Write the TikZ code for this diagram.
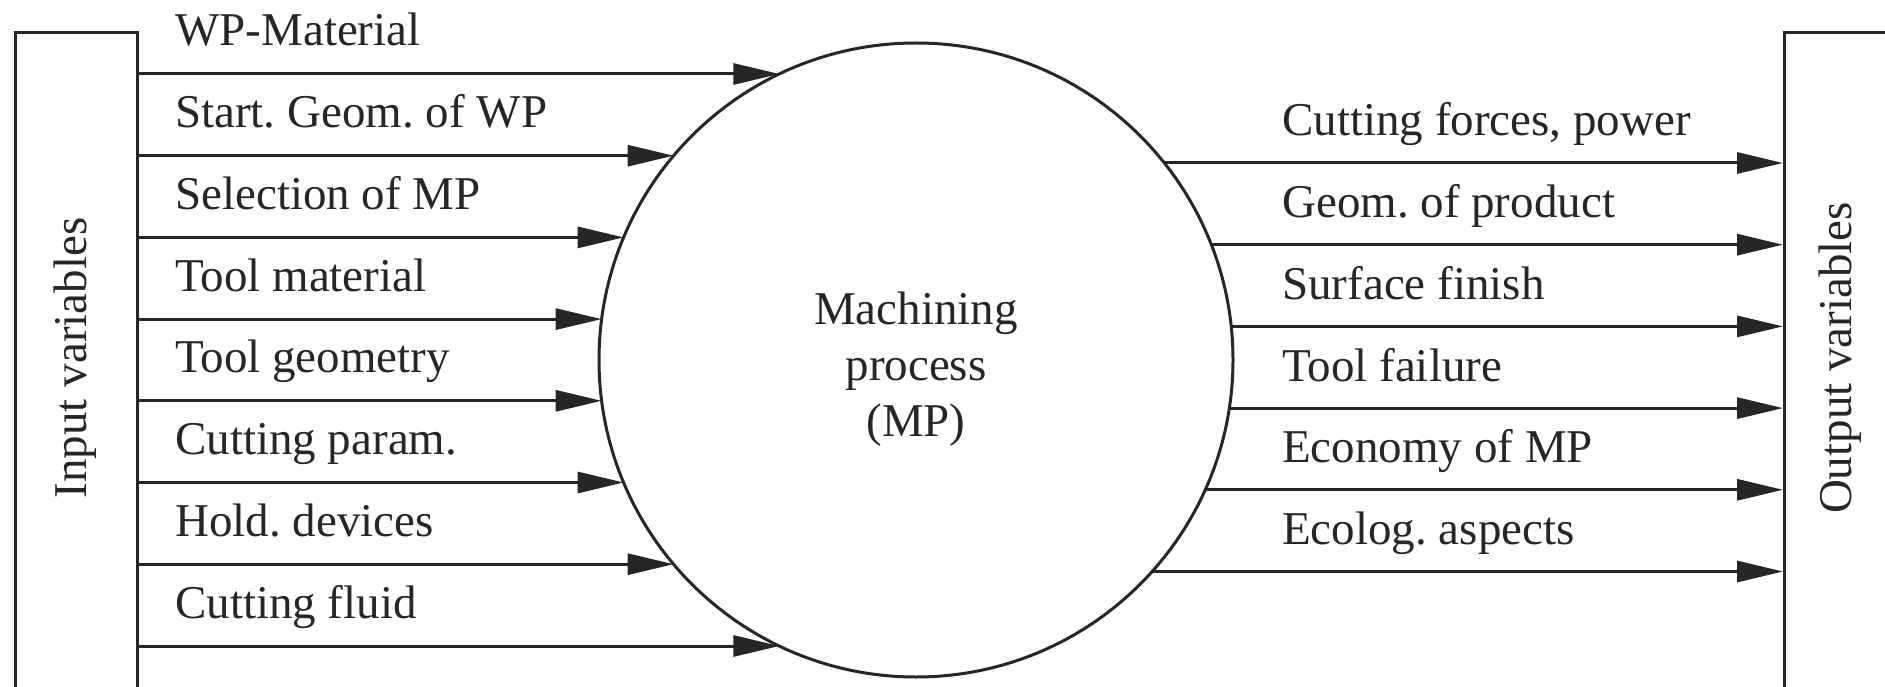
\documentclass[tikz,border=0pt]{standalone}
\usepackage{fontspec}
\setmainfont{Liberation Serif}
\usetikzlibrary{arrows.meta}
\frenchspacing
\begin{document}
\begin{tikzpicture}[x=1pt,y=-1pt,
  ln/.style={line width=3pt, draw=black!85},
  arr/.style={ln, -{Triangle[length=46pt,width=21pt]}},
  txt/.style={inner sep=0pt, text=black!85, font=\fontsize{47}{56}\selectfont},
  lbl/.style={txt, anchor=base west},
  sidebox/.style={ln, rectangle, anchor=north west, minimum width=122pt, minimum height=680pt, inner sep=0pt},
]
\useasboundingbox (0,0) rectangle (1885,687);
\clip (0,0) rectangle (1885,687);
\fill[white] (0,0) rectangle (1885,687);

% side boxes
\node[sidebox, draw] (inbox) at (14,31) {};
\node[sidebox, draw, minimum width=124pt] (outbox) at (1783,31) {};
\node[txt, rotate=90] (inlbl) at (75,358) {Input variables};
\node[txt, rotate=90] (outlbl) at (1840,358) {Output variables};

% process circle
\node[ln, draw, circle, minimum size=634pt, inner sep=0pt] (mp) at (916,360) {};
\node[txt, align=center] (mptext) at (916,369) {Machining\\process\\(MP)};

% inputs
\foreach \y/\t [count=\i] in {74/WP-Material, 155.7/Start. Geom. of WP, 237.4/Selection of MP, 319.1/Tool material, 400.8/Tool geometry, 482.5/Cutting param., 564.2/Hold. devices, 646/Cutting fluid} {
  \pgfmathsetmacro\tx{916-10*sqrt(31.7^2-((\y-360)/10)^2)}
  \coordinate (in\i) at (136,\y);
  \coordinate (tip\i) at (\tx,\y);
  \draw[arr] (in\i) -- (tip\i);
  \node[lbl] (il\i) at (175,\y-28) {\t};
}

% outputs
\foreach \y/\t [count=\i] in {163/{Cutting forces, power}, 244.7/Geom. of product, 326.4/Surface finish, 408.1/Tool failure, 489.8/Economy of MP, 571.5/Ecolog. aspects} {
  \pgfmathsetmacro\sx{916+10*sqrt(31.7^2-((\y-360)/10)^2)}
  \coordinate (src\i) at (\sx,\y);
  \coordinate (out\i) at (1783,\y);
  \draw[arr] (src\i) -- (out\i);
  \node[lbl] (ol\i) at (1282,\y-27) {\t};
}
\end{tikzpicture}
\end{document}
